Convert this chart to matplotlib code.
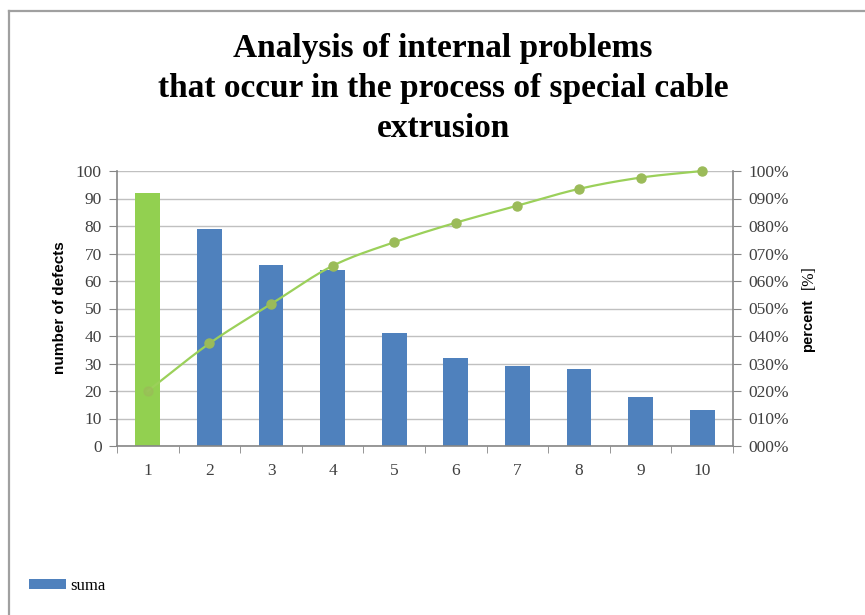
import numpy as np
import matplotlib.pyplot as plt
from matplotlib.ticker import FuncFormatter, FixedLocator
from matplotlib.lines import Line2D

# Data
categories = ['1', '2', '3', '4', '5', '6', '7', '8', '9', '10']
defects = [92, 79, 66, 64, 41, 32, 29, 28, 18, 13]
cumulative_pct = [20.0, 37.3, 51.6, 65.5, 74.1, 81.2, 87.4, 93.5, 97.6, 100.0]
series_name = 'suma'

TITLE = "Analysis of internal problems\nthat occur in the process of special cable\nextrusion"

BLUE = '#4F81BD'
GREEN_BAR = '#92D050'
LINE_GREEN = '#9BD05A'
MARKER_GREEN = '#9BBB59'
GRID = '#C0C0C0'
SPINE = '#868686'
TEXT = '#404040'


def smooth_curve(xs, ys, n=30):
    # Catmull-Rom curve through the points (like Excel's smoothed line)
    pts = np.column_stack([xs, ys]).astype(float)
    ext = np.vstack([2 * pts[0] - pts[1], pts, 2 * pts[-1] - pts[-2]])
    t = np.linspace(0, 1, n)[:, None]
    segs = []
    for i in range(1, len(ext) - 2):
        p0, p1, p2, p3 = ext[i - 1:i + 3]
        seg = 0.5 * (2 * p1 + (-p0 + p2) * t
                     + (2 * p0 - 5 * p1 + 4 * p2 - p3) * t ** 2
                     + (-p0 + 3 * p1 - 3 * p2 + p3) * t ** 3)
        segs.append(seg)
    return np.vstack(segs)


fig = plt.figure(figsize=(8.65, 6.15), dpi=100, facecolor='white')
W, H = 865, 615
ax = fig.add_axes([117 / W, 1 - 446 / H, (733 - 117) / W, (446 - 171) / H])

x = np.arange(len(categories))
colors = [GREEN_BAR] + [BLUE] * (len(categories) - 1)
bars = ax.bar(x, defects, width=0.4, color=colors, zorder=2)

ax.set_xlim(-0.5, len(categories) - 0.5)
ax.set_ylim(0, 100)
ax.set_yticks(np.arange(0, 101, 10))
ax.yaxis.grid(True, color=GRID, linewidth=1.0)
ax.set_axisbelow(True)

ax.set_xticks(x)
ax.set_xticklabels(categories)
ax.xaxis.set_minor_locator(FixedLocator(np.arange(-0.5, len(categories), 1.0)))
ax.tick_params(axis='x', which='major', length=0, pad=12)
ax.tick_params(axis='x', which='minor', length=5, color=SPINE, direction='out')
ax.tick_params(axis='y', length=6, color=SPINE, direction='out', pad=5)
for lab in ax.get_xticklabels() + ax.get_yticklabels():
    lab.set_fontfamily('Liberation Serif')
    lab.set_fontsize(12.5)
    lab.set_color(TEXT)

for side in ['top', 'right']:
    ax.spines[side].set_visible(False)
for side in ['left', 'bottom']:
    ax.spines[side].set_color(SPINE)
    ax.spines[side].set_linewidth(1.2)

# cumulative percentage on right axis
ax2 = ax.twinx()
ax2.set_ylim(0, 100)
ax2.set_yticks(np.arange(0, 101, 10))
ax2.yaxis.set_major_formatter(FuncFormatter(lambda v, p: '%03d%%' % int(round(v))))
ax2.tick_params(axis='y', length=6, color=SPINE, direction='out', pad=5)
for lab in ax2.get_yticklabels():
    lab.set_fontfamily('Liberation Serif')
    lab.set_fontsize(12.5)
    lab.set_color(TEXT)
for side in ['top', 'left', 'bottom']:
    ax2.spines[side].set_visible(False)
ax2.spines['right'].set_color(SPINE)
ax2.spines['right'].set_linewidth(1.2)

curve = smooth_curve(x, cumulative_pct)
ax2.plot(curve[:, 0], curve[:, 1], color=LINE_GREEN, linewidth=1.6, zorder=3, clip_on=False)
ax2.plot(x[1:], cumulative_pct[1:], linestyle='none', marker='o', markersize=6.5,
         color=MARKER_GREEN, zorder=4, clip_on=False)
ax2.plot(x[:1], cumulative_pct[:1], linestyle='none', marker='o', markersize=6.5,
         color=MARKER_GREEN, alpha=0.6, zorder=4, clip_on=False)

# axis titles
fig.text(60 / W, 1 - 308 / H, 'number of defects', rotation=90, ha='center', va='center',
         fontfamily='Liberation Sans', fontweight='bold', fontsize=11, color='black')
fig.text(808 / W, 1 - 352 / H, 'percent', rotation=90, ha='center', va='bottom',
         fontfamily='Liberation Sans', fontweight='bold', fontsize=10.5, color='black')
fig.text(809 / W, 1 - 265 / H, '[%]', rotation=90, ha='center', va='top',
         fontfamily='Liberation Serif', fontsize=11.5, color='black')

fig.text(443 / W, 1 - 33 / H, TITLE, ha='center', va='top', fontfamily='Liberation Serif',
         fontweight='bold', fontsize=24, linespacing=1.38, color='black')

# legend at bottom left
fig.legend([bars.patches[1]], [series_name], loc='center left',
           bbox_to_anchor=(29 / W, 1 - 586 / H), frameon=False, borderpad=0,
           borderaxespad=0, handlelength=2.2, handleheight=0.6, handletextpad=0.3,
           prop={'family': 'Liberation Serif', 'size': 12})

# chart frame (cut at right/bottom like the source)
fig.add_artist(Line2D([9 / W, 9 / W], [0, 1 - 11 / H], color='#A0A0A0', linewidth=1.6))
fig.add_artist(Line2D([9 / W, 1], [1 - 11 / H, 1 - 11 / H], color='#A0A0A0', linewidth=1.6))

fig.savefig('out.png', dpi=100, facecolor='white')
